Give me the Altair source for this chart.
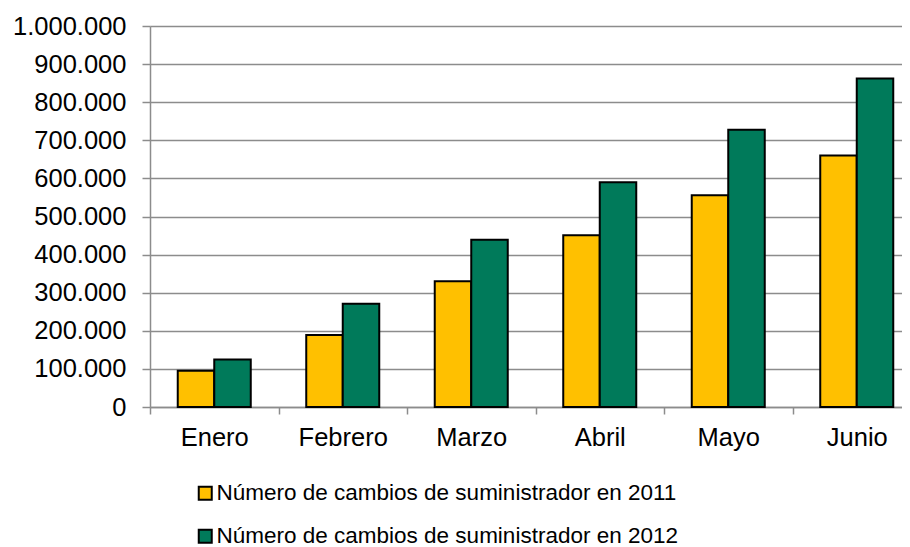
import altair as alt
import pandas as pd

months = ["Enero", "Febrero", "Marzo", "Abril", "Mayo", "Junio"]
s2011 = [95000, 189000, 330000, 451000, 556000, 660000]
s2012 = [125000, 271000, 439000, 590000, 728000, 862000]
series = ["Número de cambios de suministrador en 2011",
          "Número de cambios de suministrador en 2012"]
colors = ["#FFC000", "#007A5A"]
yticks = [0, 100000, 200000, 300000, 400000, 500000, 600000, 700000, 800000, 900000, 1000000]

rows = []
for m, a, b in zip(months, s2011, s2012):
    rows.append({"mes": m, "serie": series[0], "valor": a})
    rows.append({"mes": m, "serie": series[1], "valor": b})
df = pd.DataFrame(rows)

FONT = "Liberation Sans"
GRID = "#8c8c8c"

chart = alt.Chart(df).mark_bar(stroke="black", strokeWidth=2).encode(
    x=alt.X("mes:N", sort=months,
            scale=alt.Scale(range=[0, 771], paddingInner=0, paddingOuter=0),
            axis=alt.Axis(title=None, labelAngle=0, tickBand="extent",
                          domainColor=GRID, domainWidth=1.5, tickColor=GRID, tickWidth=1.5,
                          tickSize=7, labelPadding=11, labelFont=FONT, labelFontSize=25.5,
                          labelColor="black", grid=False)),
    xOffset=alt.XOffset("serie:N", sort=series,
                        scale=alt.Scale(paddingInner=0, paddingOuter=0.76)),
    y=alt.Y("valor:Q", scale=alt.Scale(domain=[0, 1000000], nice=False),
            axis=alt.Axis(title=None, values=yticks,
                          labelExpr="replace(format(datum.value, ','), regexp(',', 'g'), '.')",
                          domainColor=GRID, domainWidth=1.5, tickColor=GRID, tickWidth=1.5,
                          tickSize=8, labelPadding=16, labelFont=FONT, labelFontSize=25.5,
                          labelColor="black", grid=True, gridColor=GRID, gridWidth=1.5)),
    color=alt.Color("serie:N", sort=series,
                    scale=alt.Scale(domain=series, range=colors),
                    legend=alt.Legend(title=None, orient="none", legendX=44, legendY=456,
                                      direction="vertical", symbolType="square", symbolSize=169,
                                      symbolStrokeColor="black", symbolStrokeWidth=2,
                                      labelFont=FONT, labelFontSize=22.5, labelColor="black",
                                      labelOffset=0, rowPadding=20, padding=0,
                                      labelLimit=0))
).properties(
    width=752, height=381,
    autosize=alt.AutoSizeParams(type="none"),
    padding={"left": 142, "top": 18, "right": 0, "bottom": 140}
).configure_view(stroke=None)

chart.save("out.html", embed_options={"renderer": "svg", "actions": False})
